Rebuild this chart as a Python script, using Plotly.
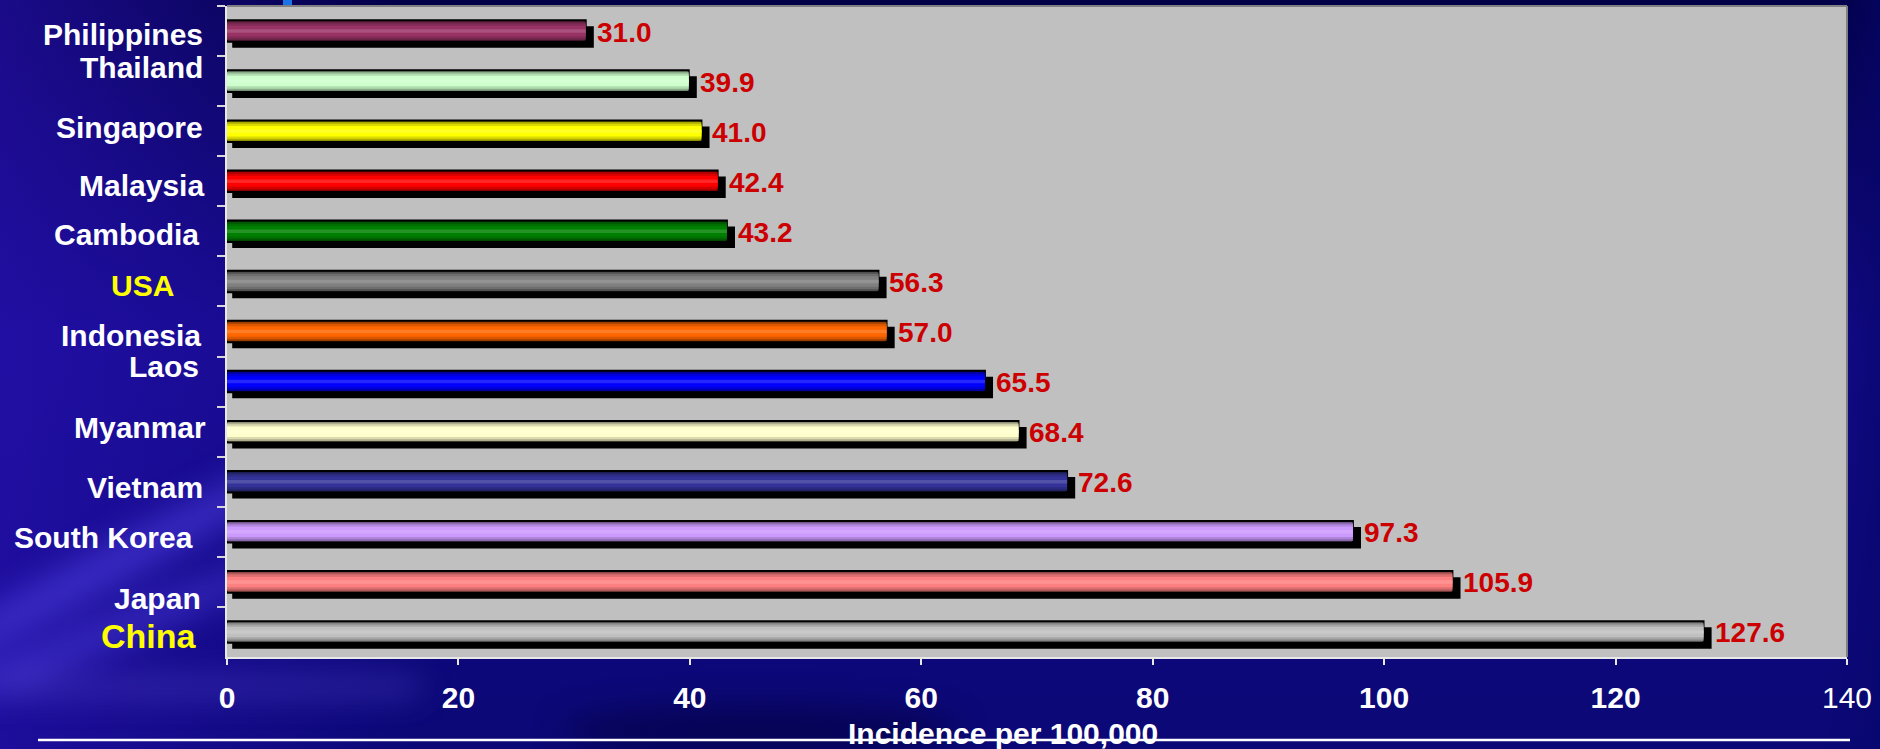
import base64
import plotly.graph_objects as go

# ---------------- data ----------------
countries = ["Philippines", "Thailand", "Singapore", "Malaysia", "Cambodia", "USA",
             "Indonesia", "Laos", "Myanmar", "Vietnam", "South Korea", "Japan", "China"]
incidence = [31.0, 39.9, 41.0, 42.4, 43.2, 56.3, 57.0, 65.5, 68.4, 72.6, 97.3, 105.9, 127.6]
x_tick_values = [0, 20, 40, 60, 80, 100, 120, 140]
x_tick_labels = ["<b>0</b>", "<b>20</b>", "<b>40</b>", "<b>60</b>", "<b>80</b>",
                 "<b>100</b>", "<b>120</b>", "140"]
x_axis_title = "Incidence per 100,000"

# ---------------- styles ----------------
bar_colors = ["#993366", "#CCFFCC", "#FFFF00", "#FF0000", "#008000", "#808080",
              "#FF6600", "#0000FF", "#FFFFCC", "#333399", "#CC99FF", "#FF8080", "#C0C0C0"]
highlight = {"USA": ("#FFFF00", 30), "China": ("#FFFF00", 34)}
label_xshift = {"Philippines": -22, "Thailand": -22, "Singapore": -22, "Malaysia": -21,
                "Cambodia": -26, "USA": -51, "Indonesia": -24, "Laos": -26, "Myanmar": -19,
                "Vietnam": -22, "South Korea": -32, "Japan": -24, "China": -28}
label_yshift = {"Philippines": -3, "Thailand": 14, "Singapore": 4, "Malaysia": -4,
                "Cambodia": -3, "USA": -4, "Indonesia": -4, "Laos": 15, "Myanmar": 4,
                "Vietnam": -6, "South Korea": -6, "Japan": -17, "China": -4}

W, H = 1880, 749
ML, MR, MT, MB = 227, 33, 6, 92
PW, PH = W - ML - MR, H - MT - MB
FONT = "Liberation Sans, Arial, sans-serif"
BAR_W = 0.43


def px_x(px):
    return (px - ML) / PW


def px_y(py):
    return (H - MB - py) / PH


def shade(hex_color, f):
    h = hex_color.lstrip("#")
    r, g, b = (int(h[i:i + 2], 16) for i in (0, 2, 4))
    if f <= 1:
        r, g, b = r * f, g * f, b * f
    else:
        t = f - 1
        r, g, b = r + (255 - r) * t, g + (255 - g) * t, b + (255 - b) * t
    return "rgb(%d,%d,%d)" % (round(r), round(g), round(b))


fig = go.Figure()

# drop shadow behind each bar
fig.add_trace(go.Bar(
    y=countries, x=[v + 0.25 for v in incidence], base=0.45, orientation="h",
    width=BAR_W, offset=-BAR_W / 2 + 0.12,
    marker=dict(color="black", line=dict(width=0)), hoverinfo="skip", showlegend=False))

# cylinder-like bars built from layered bands
layers = [(BAR_W, 0.45), (0.37, 0.68), (0.30, 0.86), (0.21, 1.0), (0.07, 1.15)]
for i, (w, f) in enumerate(layers):
    fig.add_trace(go.Bar(
        y=countries, x=incidence, orientation="h", width=w, offset=-w / 2,
        marker=dict(color=[shade(c, f) for c in bar_colors],
                    line=dict(color="black", width=2 if i == 0 else 0)),
        hoverinfo="skip", showlegend=False))

annotations = []
# value labels
for c, v in zip(countries, incidence):
    annotations.append(dict(
        x=v, y=c, xref="x", yref="y", text="%.1f" % v, showarrow=False,
        xanchor="left", yanchor="middle", xshift=9, yshift=-1,
        font=dict(family=FONT, size=28, color="#CC0000", weight="bold")))
# country labels
for c in countries:
    col, size = highlight.get(c, ("#FFFFFF", 30))
    annotations.append(dict(
        x=0, y=c, xref="paper", yref="y", text=c, showarrow=False,
        xanchor="right", yanchor="middle", xshift=label_xshift[c], yshift=label_yshift[c],
        font=dict(family=FONT, size=size, color=col, weight="bold")))
# axis title
annotations.append(dict(
    x=px_x(1003), y=0, xref="paper", yref="paper", text=x_axis_title, showarrow=False,
    xanchor="center", yanchor="middle", yshift=-76,
    font=dict(family=FONT, size=30, color="#FFFFFF", weight="bold")))

shapes = [
    # silver plot area (drawn above the background picture, below the bars)
    dict(type="rect", xref="paper", yref="paper", x0=0, x1=1, y0=0, y1=1,
         fillcolor="#C0C0C0", line=dict(width=0), layer="between"),
    dict(type="line", xref="paper", yref="paper", x0=0, x1=1, y0=1, y1=1,
         line=dict(color="#808080", width=2)),
    dict(type="line", xref="paper", yref="paper", x0=1, x1=1, y0=0, y1=1,
         line=dict(color="#808080", width=2)),
    dict(type="line", xref="paper", yref="paper", x0=px_x(38), x1=px_x(1850),
         y0=px_y(740), y1=px_y(740), line=dict(color="#FFFFFF", width=2.5)),
    dict(type="rect", xref="paper", yref="paper", x0=px_x(283), x1=px_x(292),
         y0=px_y(5), y1=px_y(-2), fillcolor="#1874E8", line=dict(width=0)),
]

svg = """<svg xmlns="http://www.w3.org/2000/svg" width="1880" height="749" viewBox="0 0 1880 749">
<defs>
<linearGradient id="v" x1="0" y1="0" x2="0" y2="1">
<stop offset="0" stop-color="#020046"/>
<stop offset="0.45" stop-color="#140a8a"/>
<stop offset="1" stop-color="#0b0876"/>
</linearGradient>
<linearGradient id="h" x1="0" y1="0" x2="1" y2="0">
<stop offset="0" stop-color="#2a12b4" stop-opacity="0.6"/>
<stop offset="0.22" stop-color="#2a12b4" stop-opacity="0"/>
<stop offset="0.97" stop-color="#06066a" stop-opacity="0"/>
<stop offset="1" stop-color="#06066a" stop-opacity="0.6"/>
</linearGradient>
<filter id="b" x="-50%" y="-50%" width="200%" height="200%"><feGaussianBlur stdDeviation="16"/></filter>
</defs>
<rect width="1880" height="749" fill="url(#v)"/>
<rect width="1880" height="749" fill="url(#h)"/>
<g filter="url(#b)" opacity="0.5">
<ellipse cx="120" cy="560" rx="260" ry="20" fill="#5848f0" transform="rotate(-28 120 560)"/>
<ellipse cx="90" cy="640" rx="240" ry="14" fill="#5848f0" transform="rotate(-22 90 640)"/>
<rect x="0" y="680" width="420" height="14" fill="#6656e0"/>
<ellipse cx="760" cy="730" rx="200" ry="25" fill="#000030"/>
</g>
</svg>"""
bg_src = "data:image/svg+xml;base64," + base64.b64encode(svg.encode()).decode()

fig.update_layout(
    width=W, height=H,
    margin=dict(l=ML, r=MR, t=MT, b=MB, pad=0),
    barmode="overlay",
    paper_bgcolor="#0b0876",
    plot_bgcolor="#C0C0C0",
    showlegend=False,
    annotations=annotations,
    shapes=shapes,
    images=[dict(source=bg_src, xref="paper", yref="paper",
                 x=-ML / PW, y=1 + MT / PH, sizex=W / PW, sizey=H / PH,
                 xanchor="left", yanchor="top", sizing="stretch", layer="below")],
    xaxis=dict(range=[0, 140], tickmode="array", tickvals=x_tick_values, ticktext=x_tick_labels,
               ticks="outside", ticklen=6, tickwidth=1.5, tickcolor="#E8E8E8",
               showline=True, linecolor="#E8E8E8", linewidth=2, showgrid=False, zeroline=False,
               tickfont=dict(family=FONT, size=30, color="#FFFFFF"), ticklabelstandoff=7),
    yaxis=dict(type="category", categoryorder="array", categoryarray=countries,
               autorange="reversed", showticklabels=False, ticks="outside", tickson="boundaries",
               ticklen=8, tickwidth=1.5, tickcolor="#D8D8D8",
               showline=True, linecolor="#E8E8E8", linewidth=2, showgrid=False, zeroline=False),
)

fig.write_html("out.html", config={"displayModeBar": False})
